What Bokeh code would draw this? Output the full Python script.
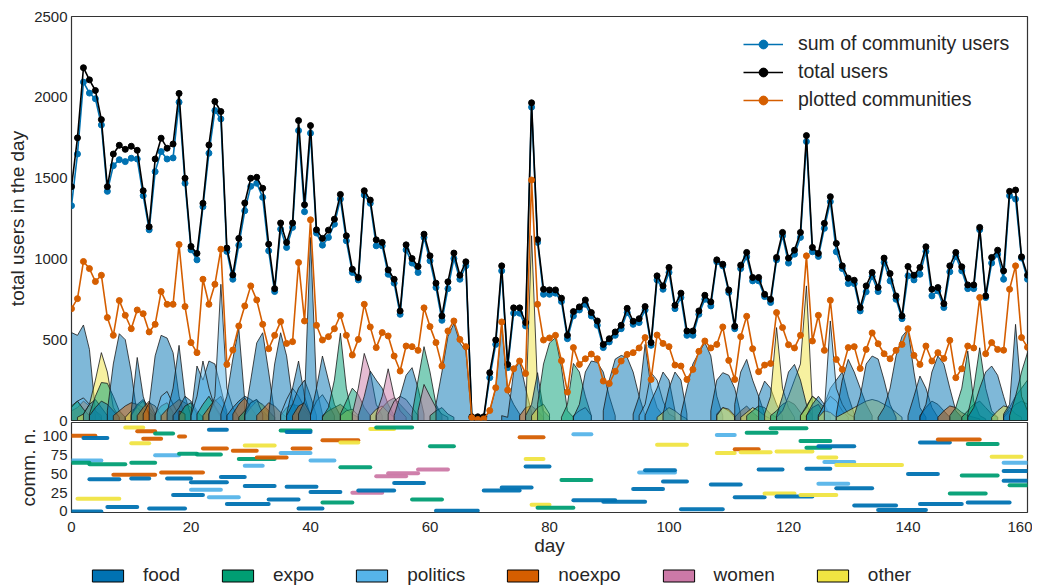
from bokeh.plotting import figure
from bokeh.layouts import column
from bokeh.models import Range1d, Legend, LegendItem, ColumnDataSource, FixedTicker
from bokeh.embed import file_html
from bokeh.resources import INLINE

FONT = "Liberation Sans"
TXT = "#262626"

days = list(range(161))

total_users = [
    1447, 1749, 2183, 2108, 2042, 1862, 1447, 1649, 1703, 1678,
    1697, 1672, 1422, 1199, 1618, 1747, 1685, 1711, 2024, 1499,
    1077, 1034, 1344, 1705, 1974, 1912, 1067, 901, 1127, 1346,
    1499, 1505, 1437, 1091, 816, 1222, 1102, 1222, 1856, 1335,
    1825, 1180, 1127, 1178, 1246, 1399, 1143, 936, 885, 1422,
    1364, 1118, 1102, 932, 874, 678, 1087, 1002, 953, 1153,
    1019, 850, 647, 858, 1036, 899, 982, 23, 23, 23,
    296, 498, 957, 347, 697, 697, 606, 1966, 1120, 812,
    808, 808, 757, 527, 674, 703, 746, 668, 616, 471,
    506, 548, 589, 694, 614, 630, 705, 482, 895, 833,
    947, 713, 788, 554, 554, 678, 775, 734, 994, 967,
    808, 583, 961, 1040, 885, 885, 781, 750, 1009, 1164,
    1005, 1054, 1164, 1763, 1071, 1034, 1220, 1385, 1096, 957,
    881, 868, 699, 833, 916, 823, 1005, 909, 771, 647,
    953, 899, 947, 1075, 812, 823, 723, 957, 1040, 951,
    839, 839, 1195, 771, 1009, 1054, 926, 1418, 1426, 1013,
    899]

sum_community_users = [
    1329, 1649, 2094, 2026, 1991, 1829, 1418, 1577, 1614, 1602,
    1623, 1618, 1391, 1180, 1540, 1664, 1618, 1625, 1970, 1468,
    1056, 994, 1323, 1654, 1918, 1866, 1046, 874, 1085, 1298,
    1449, 1468, 1381, 1050, 798, 1184, 1071, 1195, 1794, 1292,
    1778, 1160, 1085, 1133, 1215, 1370, 1112, 916, 870, 1395,
    1344, 1081, 1081, 905, 850, 657, 1056, 974, 916, 1133,
    988, 823, 620, 816, 1002, 874, 957, 17, 17, 17,
    265, 471, 926, 327, 664, 664, 585, 1939, 1102, 781,
    781, 788, 736, 506, 647, 684, 719, 647, 589, 451,
    486, 527, 568, 668, 595, 606, 684, 465, 870, 812,
    916, 692, 761, 527, 527, 657, 750, 709, 982, 957,
    792, 568, 940, 1013, 864, 864, 767, 730, 994, 1143,
    974, 1029, 1133, 1726, 1044, 1015, 1189, 1354, 1044, 940,
    847, 847, 678, 796, 891, 798, 978, 864, 750, 630,
    895, 870, 905, 1046, 771, 802, 699, 920, 1015, 926,
    816, 816, 1180, 761, 974, 1029, 874, 1391, 1370, 1005,
    874]

plotted_communities = [
    692, 754, 984, 940, 860, 899, 637, 527, 742, 651,
    568, 684, 661, 548, 595, 798, 719, 719, 1089, 705,
    482, 420, 874, 719, 843, 1060, 347, 436, 585, 709,
    833, 746, 595, 444, 527, 612, 477, 488, 978, 616,
    1242, 589, 498, 519, 568, 651, 527, 405, 502, 719,
    579, 451, 544, 523, 399, 306, 461, 457, 434, 697,
    581, 482, 337, 554, 616, 502, 457, 17, 6, 10,
    62, 203, 610, 188, 320, 368, 291, 1488, 719, 498,
    511, 527, 370, 176, 451, 347, 382, 411, 382, 244,
    229, 304, 368, 409, 420, 449, 513, 254, 529, 477,
    457, 343, 337, 254, 316, 428, 492, 449, 471, 579,
    372, 254, 519, 645, 444, 302, 343, 353, 668, 575,
    469, 449, 527, 1019, 492, 651, 434, 744, 378, 316,
    451, 457, 322, 440, 542, 475, 413, 382, 434, 471,
    568, 403, 347, 461, 368, 420, 384, 496, 265, 320,
    461, 449, 761, 413, 482, 440, 435, 812, 957, 513,
    453]

categories = ["food", "expo", "politics", "noexpo", "women", "other"]
cat_colors = ["#0072B2", "#009E73", "#56B4E9", "#D55E00", "#CC79A7", "#F0E442"]

# communities: first day, community number, category, daily users over lifetime
comm_start = [
    0, 0, 0, 0, 1, 2, 3, 3, 6, 7,
    9, 10, 10, 10, 11, 12, 13, 14, 14, 15,
    16, 17, 18, 18, 20, 20, 21, 22, 23, 23,
    25, 26, 27, 28, 29, 29, 29, 31, 33, 35,
    35, 36, 36, 37, 38, 40, 40, 42, 42, 45,
    45, 47, 48, 50, 51, 51, 53, 54, 57, 58,
    60, 61, 69, 72, 75, 76, 76, 77, 78, 82,
    84, 84, 89, 94, 95, 96, 98, 99, 102, 107,
    108, 108, 111, 111, 112, 113, 115, 116, 117, 118,
    118, 122, 122, 123, 123, 125, 125, 125, 126, 128,
    128, 131, 135, 140, 142, 142, 145, 147, 149, 150,
    150, 154, 156, 156, 156, 157]

comm_n = [
    0, 101, 68, 65, 17, 98, 63, 43, 6, 49,
    112, 91, 65, 44, 107, 97, 4, 104, 75, 52,
    44, 22, 100, 77, 39, 29, 76, 84, 109, 19,
    46, 10, 81, 70, 88, 61, 34, 72, 16, 108,
    78, 106, 33, 84, 4, 68, 26, 95, 12, 92,
    59, 25, 28, 110, 112, 47, 51, 38, 16, 56,
    87, 1, 28, 32, 99, 70, 60, 9, 5, 42,
    103, 15, 13, 30, 52, 55, 89, 40, 3, 36,
    102, 78, 83, 19, 79, 105, 56, 24, 111, 80,
    20, 94, 22, 85, 57, 87, 37, 72, 66, 31,
    62, 8, 2, 50, 92, 10, 96, 24, 48, 90,
    12, 73, 65, 54, 41, 35]

comm_cat = [
    "food", "noexpo", "politics", "expo", "other", "food", "expo", "food", "food", "noexpo",
    "other", "other", "expo", "food", "noexpo", "noexpo", "food", "expo", "politics", "noexpo",
    "food", "food", "noexpo", "expo", "food", "politics", "expo", "noexpo", "food", "politics",
    "food", "food", "noexpo", "expo", "other", "politics", "food", "noexpo", "food", "expo",
    "politics", "food", "food", "noexpo", "food", "politics", "food", "noexpo", "expo", "other",
    "expo", "women", "food", "other", "expo", "women", "women", "food", "expo", "women",
    "expo", "food", "food", "food", "noexpo", "other", "food", "other", "expo", "expo",
    "politics", "food", "food", "food", "politics", "food", "other", "food", "food", "food",
    "politics", "other", "noexpo", "food", "other", "expo", "food", "other", "expo", "other",
    "food", "expo", "other", "expo", "food", "food", "politics", "other", "politics", "food",
    "other", "food", "food", "food", "food", "food", "noexpo", "expo", "expo", "expo",
    "food", "other", "politics", "food", "food", "expo"]

comm_values = [
    [544, 527, 591, 440, 60, 10],
    [60, 80, 120, 90, 40],
    [80, 120, 140, 100, 60, 30],
    [90, 120, 70, 30],
    [20, 40, 100, 250, 420, 300, 80, 20],
    [40, 100, 130, 80, 30],
    [40, 150, 235, 230, 150, 60, 20],
    [30, 80, 120, 100, 60, 20],
    [60, 350, 537, 500, 300, 30],
    [30, 60, 90, 110, 100, 80, 50, 20],
    [20, 60, 80, 40],
    [30, 90, 120, 40],
    [40, 100, 130, 80, 30],
    [60, 390, 150, 30],
    [30, 80, 120, 40],
    [40, 110, 90, 30],
    [100, 400, 527, 510, 420, 150, 20],
    [40, 90, 110, 50],
    [30, 150, 180, 100, 30],
    [30, 70, 100, 130, 110, 80, 50, 20],
    [50, 200, 465, 150, 30],
    [30, 80, 150, 120, 60, 20],
    [60, 40],
    [30, 90, 110, 40],
    [40, 337, 250, 368, 350, 200, 40],
    [30, 150, 368, 200, 80, 20],
    [40, 100, 150, 90, 30],
    [30, 80, 130, 90, 30],
    [40, 120, 150, 60],
    [40, 150, 843, 200, 80, 20],
    [40, 150, 380, 568, 120],
    [30, 80, 120, 150, 130, 100, 60, 20],
    [40, 100, 140, 80, 30],
    [20, 60, 110, 130, 90, 50, 20],
    [30, 80, 120, 100, 60, 20],
    [40, 110, 130, 40],
    [30, 250, 480, 543, 300, 40],
    [30, 70, 110, 90, 50, 20],
    [40, 350, 543, 400, 120, 30],
    [30, 80, 100, 90, 60, 20],
    [40, 130, 200, 150, 80, 30],
    [40, 200, 368, 150, 30],
    [30, 100, 200, 250, 150, 30],
    [30, 90, 110, 40],
    [40, 120, 1133, 200, 40],
    [40, 120, 160, 100, 30],
    [30, 200, 399, 250, 100, 30],
    [30, 60, 80, 100, 70, 40, 20],
    [20, 80, 250, 540, 200, 30],
    [30, 60, 70, 30],
    [40, 120, 200, 160, 80, 30],
    [40, 200, 415, 300, 100, 30],
    [30, 150, 306, 250, 200, 100, 30],
    [30, 70, 90, 50, 20],
    [30, 80, 120, 140, 100, 60, 20],
    [40, 150, 320, 150, 60, 20],
    [40, 120, 150, 130, 80, 30],
    [30, 150, 280, 327, 200, 40],
    [40, 250, 457, 300, 100, 30],
    [60, 223, 150, 80, 40, 20],
    [30, 60, 80, 40, 20],
    [100, 300, 520, 600, 480, 430, 10, 5],
    [5, 60, 200, 595, 180, 100, 40],
    [30, 20, 300, 368, 200, 50],
    [30, 80, 90, 60, 20],
    [30, 1143, 200, 40],
    [30, 100, 296, 60, 20],
    [30, 80, 100, 40],
    [100, 350, 480, 512, 330, 60, 20],
    [20, 100, 353, 300, 150, 30],
    [30, 60, 80, 30],
    [20, 100, 300, 368, 360, 300, 150, 30],
    [60, 250, 380, 403, 390, 300, 150, 30],
    [40, 150, 471, 200, 80, 30],
    [30, 100, 296, 250, 120, 40, 20],
    [30, 120, 200, 300, 250, 60],
    [20, 50, 80, 60, 30, 10],
    [40, 200, 300, 250, 40],
    [40, 200, 350, 420, 482, 400, 150, 30],
    [60, 250, 296, 280, 200, 40],
    [40, 80, 60, 20],
    [30, 80, 70, 30],
    [20, 60, 90, 50, 20],
    [100, 300, 378, 250, 150, 40],
    [20, 50, 80, 60, 30, 10],
    [30, 60, 90, 80, 40, 20],
    [150, 244, 200, 100, 30],
    [40, 150, 575, 200, 80, 20],
    [30, 60, 100, 120, 100, 50, 20],
    [20, 60, 150, 250, 350, 833, 100],
    [30, 150, 300, 347, 250, 100, 30],
    [30, 90, 150, 120, 60, 20],
    [30, 80, 150, 120, 80, 40, 20],
    [30, 80, 100, 40, 20],
    [30, 100, 150, 100, 30],
    [30, 100, 200, 250, 300, 150, 40],
    [30, 100, 150, 120, 60, 20],
    [20, 60, 50, 20],
    [60, 616, 200, 100, 40, 20],
    [40, 250, 378, 300, 200, 100, 30],
    [20, 40, 60, 80, 100, 120, 130, 120, 100, 80, 50, 20],
    [30, 150, 350, 399, 380, 250, 100, 20],
    [20, 80, 200, 400, 520, 564, 300, 80, 20],
    [30, 150, 275, 200, 80, 20],
    [30, 80, 120, 100, 60, 20],
    [20, 100, 300, 399, 350, 200, 60, 20],
    [20, 60, 90, 80, 50, 30, 20, 10],
    [30, 80, 200, 430, 120, 30, 10],
    [20, 60, 100, 120, 80, 40, 20],
    [40, 200, 450, 200, 60, 20],
    [20, 80, 200, 300, 337, 280, 150, 30],
    [20, 60, 90, 80, 40, 20],
    [20, 60, 100, 120, 100],
    [30, 80, 150, 200, 250],
    [40, 100, 595, 150, 60],
    [30, 150, 300, 420],
]

color_of = dict(zip(categories, cat_colors))

x_range = Range1d(0, 160)
LB, RB = 71, 5
FW = 956


def style_axis(ax, label):
    ax.axis_label = label
    ax.axis_label_text_font = FONT
    ax.axis_label_text_font_size = "19px"
    ax.axis_label_text_font_style = "normal"
    ax.axis_label_text_color = TXT
    ax.axis_label_standoff = 2
    ax.major_label_text_font = FONT
    ax.major_label_text_font_size = "15px"
    ax.major_label_text_color = TXT
    ax.major_label_standoff = 4
    ax.major_tick_out = 0
    ax.major_tick_in = 0
    ax.minor_tick_out = 0
    ax.minor_tick_in = 0
    ax.axis_line_color = None


# ---------------- top panel ----------------
p1 = figure(frame_width=FW, frame_height=404, x_range=x_range, y_range=Range1d(0, 2500),
            output_backend="svg", toolbar_location=None,
            min_border_left=LB, min_border_right=RB, min_border_top=16, min_border_bottom=9)
p1.border_fill_color = None

xs, ys, fc = [], [], []
for s, vals, cat in zip(comm_start, comm_values, comm_cat):
    dd = [s + i for i in range(len(vals))]
    xs.append([dd[0]] + dd + [dd[-1]])
    ys.append([0] + list(vals) + [0])
    fc.append(color_of[cat])
p1.patches(xs=xs, ys=ys, fill_color=fc, fill_alpha=0.5,
           line_color="#1a1a1a", line_alpha=0.8, line_width=1)

p1.line(days, sum_community_users, color="#0072B2", line_width=1.6,
        legend_label="sum of community users")
p1.scatter(days, sum_community_users, color="#0072B2", size=6,
           legend_label="sum of community users")
p1.line(days, total_users, color="black", line_width=1.6, legend_label="total users")
p1.scatter(days, total_users, color="black", size=6, legend_label="total users")
p1.line(days, plotted_communities, color="#D55E00", line_width=1.6,
        legend_label="plotted communities")
p1.scatter(days, plotted_communities, color="#D55E00", size=6,
           legend_label="plotted communities")

p1.xaxis.visible = False
p1.grid.visible = False
p1.outline_line_color = "#333333"
p1.outline_line_width = 1.2
ya = p1.yaxis[0]
ya.ticker = FixedTicker(ticks=[0, 500, 1000, 1500, 2000, 2500])
style_axis(ya, "total users in the day")
ya.axis_label_standoff = 3

lg = p1.legend[0]
lg.location = (664, 301)
lg.label_text_font = FONT
lg.label_text_font_size = "19.5px"
lg.label_text_color = TXT
lg.glyph_width = 40
lg.glyph_height = 22
lg.label_height = 22
lg.spacing = 5
lg.padding = 8
lg.label_standoff = 15
lg.border_line_alpha = 0
lg.background_fill_alpha = 0

# ---------------- bottom panel ----------------
p2 = figure(frame_width=FW, frame_height=90, x_range=x_range, y_range=Range1d(-1.5, 118.5),
            output_backend="svg", toolbar_location=None,
            min_border_left=LB, min_border_right=RB, min_border_top=1, min_border_bottom=0,
            margin=(-8, 0, 0, 0))
p2.border_fill_color = None

comm_end = [s + len(v) - 1 for s, v in zip(comm_start, comm_values)]
seg_src = ColumnDataSource(dict(x0=comm_start, x1=comm_end, y=comm_n,
                                color=[color_of[c] for c in comm_cat]))
p2.segment(x0="x0", y0="y", x1="x1", y1="y", color="color", line_width=4,
           line_cap="round", line_alpha=0.95, source=seg_src)

p2.grid.visible = False
p2.outline_line_color = "#333333"
p2.outline_line_width = 1.2
xa = p2.xaxis[0]
xa.ticker = FixedTicker(ticks=[0, 20, 40, 60, 80, 100, 120, 140, 160])
style_axis(xa, "day")
xa.major_label_standoff = 9
xa.axis_label_standoff = 0
ya2 = p2.yaxis[0]
ya2.ticker = FixedTicker(ticks=[0, 25, 50, 75, 100])
style_axis(ya2, "comm. n.")
ya2.axis_label_standoff = 0

# ---------------- category legend ----------------
p3 = figure(frame_width=FW, frame_height=22, x_range=Range1d(0, 1), y_range=Range1d(0, 1),
            output_backend="svg", toolbar_location=None,
            min_border_left=LB, min_border_right=RB, min_border_top=6, min_border_bottom=0)
p3.axis.visible = False
p3.grid.visible = False
p3.outline_line_color = None
items = []
for cat, col in zip(categories, cat_colors):
    # swatch renderers only (kept outside the visible range)
    r = p3.quad(left=[-3], right=[-2], bottom=[-3], top=[-2], fill_color=col,
                line_color="black", line_width=1)
    items.append(LegendItem(label=cat, renderers=[r]))
lg2 = Legend(items=items, orientation="horizontal", location=(17, 0),
             glyph_width=39, glyph_height=15, label_standoff=16, spacing=38,
             padding=0, margin=0, label_text_font=FONT, label_text_font_size="19px",
             label_text_color=TXT, label_height=22, border_line_alpha=0,
             background_fill_alpha=0)
p3.add_layout(lg2)

layout = column(p1, p2, p3)
open("out.html", "w").write(file_html(layout, INLINE))
